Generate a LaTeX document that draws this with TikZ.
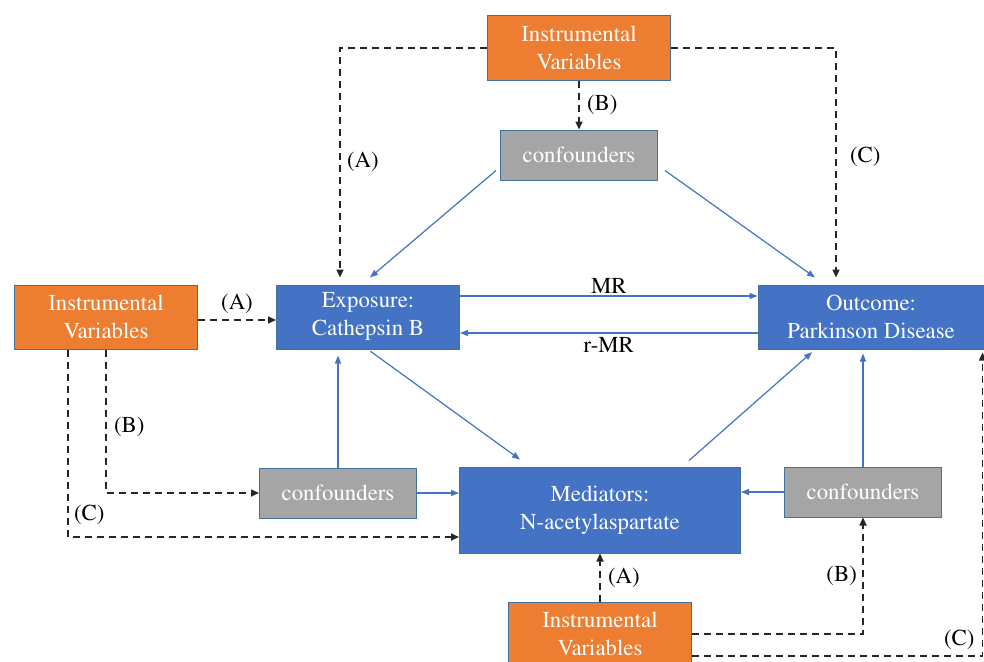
\documentclass[tikz,border=0pt]{standalone}
\usepackage[T1]{fontenc}
\usepackage{mathptmx}
\usepackage{tikz}
\usetikzlibrary{arrows.meta, positioning, calc}
\definecolor{ivorange}{RGB}{237,125,49}
\definecolor{mainblue}{RGB}{68,114,196}
\definecolor{confgray}{RGB}{165,165,165}
\definecolor{edgeblue}{RGB}{65,113,156}
\tikzset{
  ivbox/.style={rectangle, draw=edgeblue, fill=ivorange, text=white,
    minimum width=183pt, minimum height=64pt, align=center,
    inner sep=0pt, line width=1pt},
  confbox/.style={rectangle, draw=edgeblue, fill=confgray, text=white,
    minimum width=157pt, minimum height=50pt, align=center,
    inner sep=0pt, line width=1pt},
  mainbox/.style={rectangle, draw=edgeblue, fill=mainblue, text=white,
    minimum width=183pt, minimum height=64pt, align=center,
    inner sep=0pt, line width=1pt},
  arrow/.style={-{Triangle[length=8pt,width=6pt]}, line width=1.2pt, color=mainblue},
  dasharrow/.style={-{Triangle[length=8pt,width=7pt]}, line width=1.6pt,
    dash pattern=on 7pt off 5pt, color=black!85},
  tag/.style={text=black}
}

\begin{document}
\begin{tikzpicture}[x=1pt, y=-1pt, every node/.style={font=\rmfamily\fontsize{22.8}{28}\selectfont}]
  \useasboundingbox (0,0) rectangle (984,661);
  % main nodes
  \node[mainbox] (expo) at (368,317) {Exposure:\\Cathepsin B};
  \node[mainbox, minimum width=226pt] (outc) at (871,317) {Outcome:\\Parkinson Disease};
  \node[mainbox, minimum width=281pt, minimum height=86pt] (medi) at (600,510) {Mediators:\\N-acetylaspartate};
  % instrumental variables
  \node[ivbox] (ivtop) at (579,48) {Instrumental\\Variables};
  \node[ivbox] (ivleft) at (106,317) {Instrumental\\Variables};
  \node[ivbox] (ivbot) at (600,634) {Instrumental\\Variables};
  % confounders
  \node[confbox] (conftop) at (579,155) {confounders};
  \node[confbox] (confleft) at (338,493) {confounders};
  \node[confbox] (confright) at (863,492) {confounders};

  % MR and reverse MR
  \draw[arrow] ([yshift=21pt]expo.east) -- node[tag, above=-1pt] {MR} ([yshift=21pt]outc.west);
  \draw[arrow] ([yshift=-16pt]outc.west) -- node[tag, below=1pt] {r-MR} ([yshift=-16pt]expo.west -| expo.east);
  % mediation
  \draw[arrow, shorten <=3pt] (expo.south) -- ([xshift=-80pt,yshift=7pt]medi.north);
  \draw[arrow, shorten >=4pt] ([xshift=89pt,yshift=6pt]medi.north) -- ([xshift=-56pt]outc.south);
  % confounders
  \draw[arrow] ([xshift=-4pt,yshift=10pt]conftop.south west) -- ([xshift=2pt,yshift=7pt]expo.north);
  \draw[arrow] ([xshift=7pt,yshift=10pt]conftop.south east) -- ([xshift=-56pt,yshift=7pt]outc.north);
  \draw[arrow, shorten >=6pt] (confleft.north) -- (confleft.north |- expo.south);
  \draw[arrow] (confleft.east) -- (confleft.east -| medi.west);
  \draw[arrow] (confright.west) -- (confright.west -| medi.east);
  \draw[arrow, shorten >=4pt] (confright.north) -- (confright.north |- outc.south);

  % instrumental variables, top
  \draw[dasharrow, shorten >=7pt] (ivtop.west) -| node[tag, pos=0.74, right=3pt] {(A)} ([xshift=-28pt]expo.north);
  \draw[dasharrow, shorten >=7pt] (ivtop.east) -| node[tag, pos=0.73, right=10pt] {(C)} ([xshift=-35pt]outc.north);
  \draw[dasharrow] (ivtop.south) -- node[tag, right=4pt] {(B)} (conftop.north);
  % instrumental variables, left
  \draw[dasharrow] ([yshift=-3pt]ivleft.east) -- node[tag, above=2pt] {(A)} ([yshift=-3pt]expo.west);
  \draw[dasharrow] (ivleft.south) |- node[tag, pos=0.27, right=4pt] {(B)} (confleft.west);
  \draw[dasharrow] ([xshift=-38pt]ivleft.south) |- node[tag, pos=0.44, right=2pt] {(C)} ([yshift=-27pt]medi.west);
  % instrumental variables, bottom
  \draw[dasharrow] (ivbot.north) -- node[tag, right=4pt] {(A)} (medi.south);
  \draw[dasharrow] (ivbot.east) -| node[tag, pos=0.75, left=2pt] {(B)} (confright.south);
  \draw[dasharrow, shorten >=3pt] ([yshift=-22pt]ivbot.east) -| node[tag, pos=0.46, above=2pt] {(C)} ([xshift=-2pt]outc.south east);
\end{tikzpicture}
\end{document}
